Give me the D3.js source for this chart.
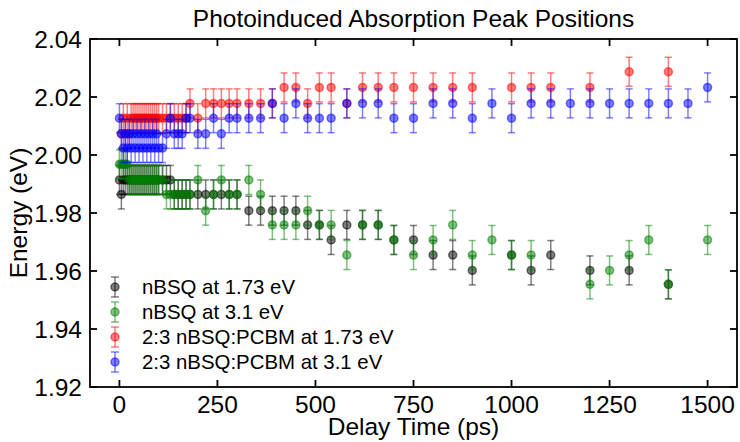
<!DOCTYPE html>
<html>
<head>
<meta charset="utf-8">
<script src="https://cdn.jsdelivr.net/npm/d3@7/dist/d3.min.js"></script>
<style>
  body { margin: 0; background: #fff; }
  svg { display: block; font-family: "Liberation Sans", Arial, sans-serif; }
</style>
</head>
<body>
<svg id="chart" width="740" height="442"></svg>
<script>
// Delay times (ps) shared by all four series
const delays = [0, 5, 10, 15, 20, 25, 30, 35, 40, 45, 50, 55, 60, 65, 70, 75, 80, 85, 90, 95, 100,
    110, 120, 130, 140, 150, 160, 170, 180,
    200, 220, 240, 260, 280, 300,
    330, 360, 390, 420, 450, 480, 510, 540,
    580, 620, 660, 700,
    750, 800, 850, 900, 950, 1000, 1050, 1100, 1150, 1200, 1250, 1300, 1350, 1400, 1450, 1500];

// Peak energies (eV), null where there is no point
const nbsq173 = [1.9914, 1.9864, 1.9914, 1.9914, 1.9914, 1.9914, 1.9914, 1.9914, 1.9914, 1.9914, 1.9914,
    1.9914, 1.9914, 1.9914, 1.9914, 1.9914, 1.9914, 1.9914, 1.9914, 1.9914, 1.9914,
    1.9914, 1.9914, 1.9914, 1.9864, 1.9864, 1.9864, 1.9864, 1.9864,
    1.9864, 1.9864, 1.9864, 1.9864, 1.9864, 1.9864,
    1.9808, 1.9808, 1.9808, 1.9808, 1.9808, 1.9759, 1.9759, 1.9707,
    1.9759, 1.9759, 1.9759, 1.9707,
    1.9707, 1.9655, 1.9655, 1.9602, null, 1.9655, 1.9602, 1.9655, null, 1.9602, null, 1.9602, null, 1.9554, null, null];

const nbsq31 = [1.9968, 1.9968, 1.9968, 1.9968, 1.9968, 1.9914, 1.9914, 1.9914, 1.9914, 1.9914, 1.9914,
    1.9914, 1.9914, 1.9914, 1.9914, 1.9914, 1.9914, 1.9914, 1.9914, 1.9914, 1.9914,
    1.9914, 1.9864, 1.9864, 1.9864, 1.9864, 1.9864, 1.9864, 1.9864,
    1.9914, 1.9808, 1.9864, 1.9914, 1.9864, 1.9864,
    1.9914, 1.9864, 1.9759, 1.9759, 1.9759, 1.9808, 1.9759, 1.9759,
    1.9655, 1.9759, 1.9759, 1.9707,
    1.9655, 1.9707, 1.9759, 1.9655, 1.9707, 1.9655, 1.9655, null, null, 1.9554, 1.9602, 1.9655, 1.9707, 1.9554, null, 1.9707];

const pcbm173 = [null, 2.0073, 2.0127, 2.0073, 2.0127, 2.0073, 2.0127, 2.0127, 2.0127, 2.0127, 2.0127,
    2.0127, 2.0127, 2.0127, 2.0127, 2.0127, 2.0127, 2.0127, 2.0127, 2.0127, 2.0127,
    2.0127, 2.0127, 2.0127, 2.0127, 2.0127, 2.0127, 2.0127, 2.0178,
    2.0127, 2.0178, 2.0178, 2.0178, 2.0178, 2.0178,
    2.0178, 2.0178, 2.0178, 2.0233, 2.0233, 2.0178, 2.0233, 2.0233,
    2.0178, 2.0233, 2.0233, 2.0233,
    2.0233, 2.0233, 2.0233, 2.0233, null, 2.0233, 2.0233, 2.0233, null, 2.0233, null, 2.0287, null, 2.0287, null, null];

const pcbm31 = [2.0127, 2.0073, 2.0024, 2.0073, 2.0024, 2.0073, 2.0024, 2.0073, 2.0024, 2.0073, 2.0024,
    2.0073, 2.0024, 2.0073, 2.0024, 2.0073, 2.0024, 2.0073, 2.0024, 2.0073, 2.0024,
    2.0024, 2.0073, 2.0127, 2.0073, 2.0073, 2.0073, 2.0127, 2.0127,
    2.0073, 2.0073, 2.0127, 2.0073, 2.0127, 2.0127,
    2.0127, 2.0127, 2.0178, 2.0127, 2.0178, 2.0127, 2.0127, 2.0127,
    2.0178, 2.0178, 2.0178, 2.0127,
    2.0127, 2.0178, 2.0178, 2.0127, 2.0178, 2.0127, 2.0178, 2.0178, 2.0178, 2.0178, 2.0178, 2.0178, 2.0178, 2.0178, 2.0178, 2.0233];

const energyError = 0.005;

const seriesNames = ["nBSQ at 1.73 eV", "nBSQ at 3.1 eV", "2:3 nBSQ:PCBM at 1.73 eV", "2:3 nBSQ:PCBM at 3.1 eV"];
const seriesColors = ["#000000", "#008000", "#ff0000", "#0000ff"];
const seriesValues = [nbsq173, nbsq31, pcbm173, pcbm31];

const xTicks = [0, 250, 500, 750, 1000, 1250, 1500];
const yTicks = [1.92, 1.94, 1.96, 1.98, 2.00, 2.02, 2.04];

// Layout
const margin = { left: 90, right: 3, top: 39, bottom: 55 };
const W = 740, H = 442;
const fontSize = 24.5;

const x = d3.scaleLinear().domain([-75, 1575]).range([margin.left, W - margin.right]);
const y = d3.scaleLinear().domain([1.92, 2.04]).range([H - margin.bottom, margin.top]);

const svg = d3.select("#chart");

// Points, drawn series by series (blue ends on top)
seriesValues.forEach((vals, si) => {
    const color = seriesColors[si];
    const pts = delays.map((t, i) => ({ t, e: vals[i] })).filter(d => d.e !== null);
    const g = svg.append("g");

    g.selectAll("line.bar").data(pts).join("line")
        .attr("x1", d => x(d.t)).attr("x2", d => x(d.t))
        .attr("y1", d => y(d.e - energyError)).attr("y2", d => y(d.e + energyError))
        .attr("stroke", color).attr("stroke-opacity", 0.5).attr("stroke-width", 1.5);

    [-1, 1].forEach(s => {
        g.selectAll(null).data(pts).join("line")
            .attr("x1", d => x(d.t) - 3.5).attr("x2", d => x(d.t) + 3.5)
            .attr("y1", d => y(d.e + s * energyError)).attr("y2", d => y(d.e + s * energyError))
            .attr("stroke", color).attr("stroke-opacity", 0.5).attr("stroke-width", 1.5);
    });

    g.selectAll("circle").data(pts).join("circle")
        .attr("cx", d => x(d.t)).attr("cy", d => y(d.e)).attr("r", 4)
        .attr("fill", color).attr("fill-opacity", 0.5)
        .attr("stroke", color).attr("stroke-opacity", 0.5).attr("stroke-width", 1.5);
});

// Frame
const x0 = margin.left, x1 = W - margin.right, y0 = margin.top, y1 = H - margin.bottom;
svg.append("rect")
    .attr("x", x0).attr("y", y0).attr("width", x1 - x0).attr("height", y1 - y0)
    .attr("fill", "none").attr("stroke", "#000").attr("stroke-width", 1.8);

// Inward ticks on all sides
const tickLen = 7;
const ticks = svg.append("g").attr("stroke", "#000").attr("stroke-width", 1.8);
xTicks.forEach(t => {
    ticks.append("line").attr("x1", x(t)).attr("x2", x(t)).attr("y1", y1).attr("y2", y1 - tickLen);
    ticks.append("line").attr("x1", x(t)).attr("x2", x(t)).attr("y1", y0).attr("y2", y0 + tickLen);
});
yTicks.forEach(v => {
    ticks.append("line").attr("x1", x0).attr("x2", x0 + tickLen).attr("y1", y(v)).attr("y2", y(v));
    ticks.append("line").attr("x1", x1).attr("x2", x1 - tickLen).attr("y1", y(v)).attr("y2", y(v));
});

// Tick labels
svg.append("g").selectAll("text").data(xTicks).join("text")
    .attr("x", d => x(d)).attr("y", 413)
    .attr("text-anchor", "middle").attr("font-size", fontSize)
    .text(d => d);

svg.append("g").selectAll("text").data(yTicks).join("text")
    .attr("x", x0 - 8).attr("y", d => y(d)).attr("dy", "0.35em")
    .attr("text-anchor", "end").attr("font-size", fontSize)
    .text(d => d3.format(".2f")(d));

// Title and axis labels
svg.append("text").attr("x", (x0 + x1) / 2).attr("y", 27)
    .attr("text-anchor", "middle").attr("font-size", fontSize)
    .text("Photoinduced Absorption Peak Positions");

svg.append("text").attr("x", (x0 + x1) / 2).attr("y", 435)
    .attr("text-anchor", "middle").attr("font-size", fontSize)
    .text("Delay Time (ps)");

svg.append("text")
    .attr("transform", `translate(27,${(y0 + y1) / 2}) rotate(-90)`)
    .attr("text-anchor", "middle").attr("font-size", fontSize)
    .text("Energy (eV)");

// Legend
const legend = svg.append("g");
seriesNames.forEach((name, i) => {
    const ly = 287 + i * 25, lx = 115, color = seriesColors[i];
    const row = legend.append("g");
    row.append("line").attr("x1", lx).attr("x2", lx).attr("y1", ly - 10).attr("y2", ly + 10)
        .attr("stroke", color).attr("stroke-opacity", 0.5).attr("stroke-width", 1.5);
    [-10, 10].forEach(dy => {
        row.append("line").attr("x1", lx - 4).attr("x2", lx + 4).attr("y1", ly + dy).attr("y2", ly + dy)
            .attr("stroke", color).attr("stroke-opacity", 0.5).attr("stroke-width", 1.5);
    });
    row.append("circle").attr("cx", lx).attr("cy", ly).attr("r", 4)
        .attr("fill", color).attr("fill-opacity", 0.5)
        .attr("stroke", color).attr("stroke-opacity", 0.5).attr("stroke-width", 1.5);
    row.append("text").attr("x", 142).attr("y", ly).attr("dy", "0.35em")
        .attr("font-size", 20.4).text(name);
});
</script>
</body>
</html>
